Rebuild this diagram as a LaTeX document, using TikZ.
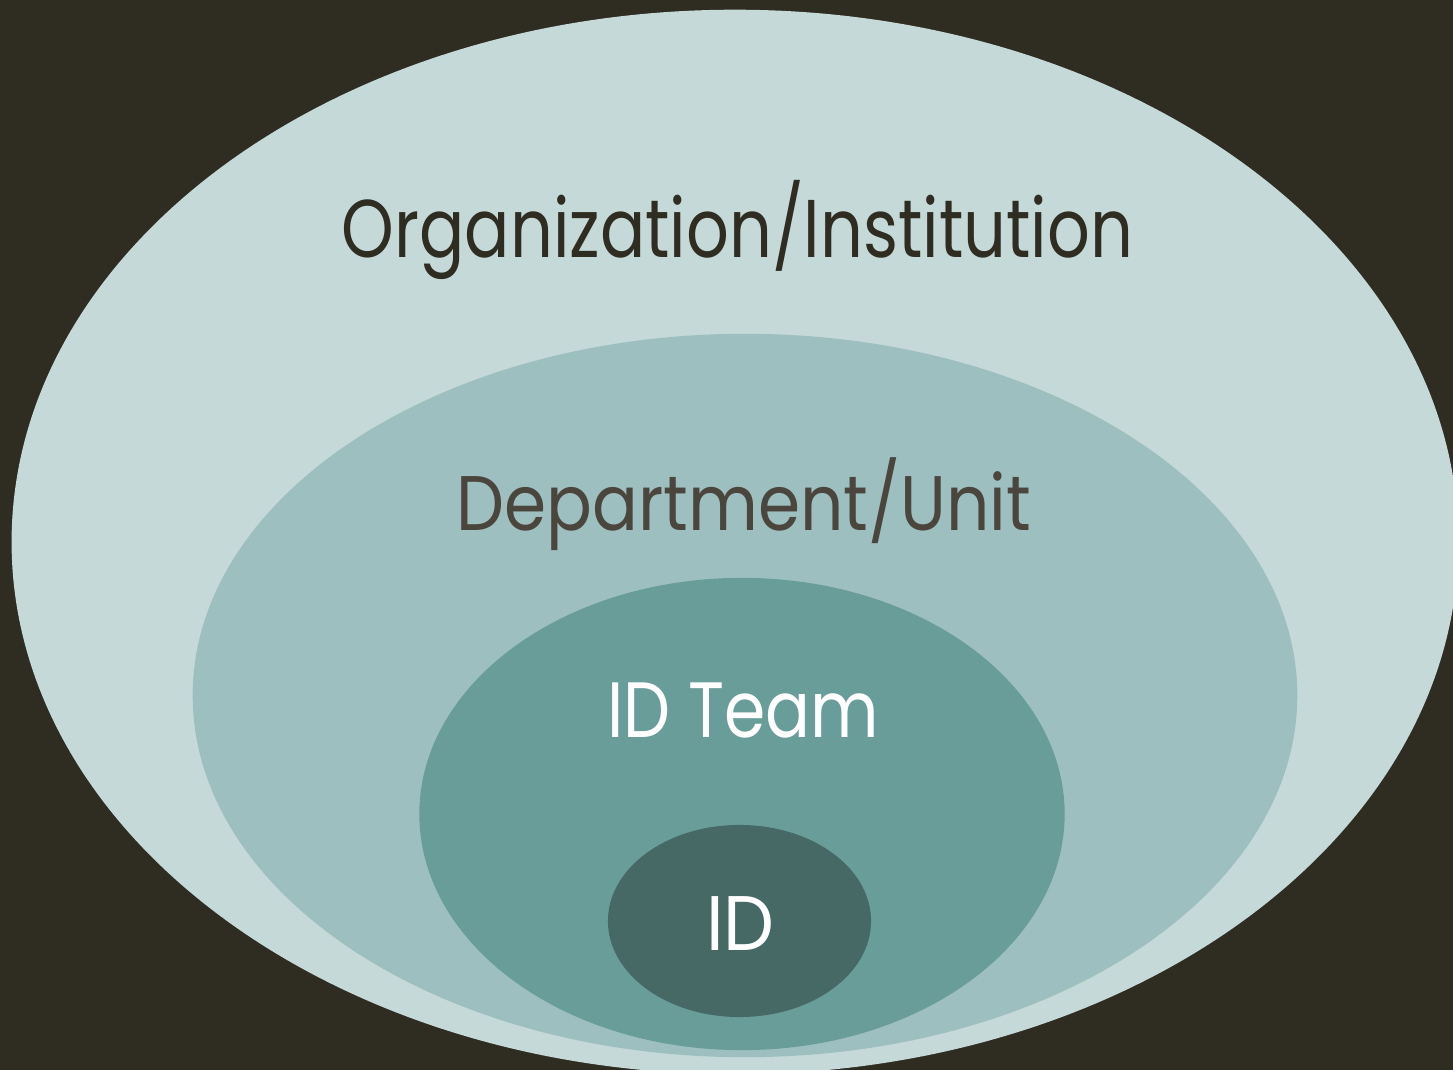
\documentclass[tikz,border=0pt]{standalone}
\usepackage{fontspec}
\setmainfont{Poppins}
\usetikzlibrary{shapes.geometric}
\definecolor{bgdark}{HTML}{2F2C22}
\definecolor{orgfill}{HTML}{C4D9D8}
\definecolor{deptfill}{HTML}{9EBFBF}
\definecolor{teamfill}{HTML}{699D9A}
\definecolor{idfill}{HTML}{466966}
\definecolor{depttext}{HTML}{4A453D}
\tikzset{
  ring/.style={ellipse, draw=none, inner sep=0pt, outer sep=0pt},
  lbl/.style={anchor=base, inner sep=0pt, outer sep=0pt},
}
\begin{document}
\begin{tikzpicture}[x=0.01cm,y=-0.01cm]
\useasboundingbox (0,0) rectangle (1453,1070);
\clip (0,0) rectangle (1453,1070);
\fill[bgdark] (0,0) rectangle (1453,1070);
\node[ring, fill=orgfill, minimum width=14.46cm, minimum height=10.64cm] (org) at (735,542) {};
\node[ring, fill=deptfill, minimum width=11.04cm, minimum height=7.23cm] (dept) at (745,695.5) {};
\node[ring, fill=teamfill, minimum width=6.45cm, minimum height=4.72cm] (team) at (742,814) {};
\node[ring, fill=idfill, minimum width=2.63cm, minimum height=1.92cm] (id) at (739.5,921) {};
\node[lbl, text=bgdark, font=\fontsize{23.3}{28}\selectfont] (orgl) at (737.5,258) {\scalebox{0.818}[1]{Organization/Institution}};
\node[lbl, text=depttext, font=\fontsize{22}{26}\selectfont] (deptl) at (744,531) {\scalebox{0.877}[1]{Department/Unit}};
\node[lbl, text=white, font=\fontsize{22.3}{26}\selectfont] (teaml) at (743.5,738) {\scalebox{0.848}[1]{ID Team}};
\node[lbl, text=white, font=\fontsize{22}{26}\selectfont] (idl) at (740.5,951) {\scalebox{0.93}[1]{ID}};
\end{tikzpicture}
\end{document}
